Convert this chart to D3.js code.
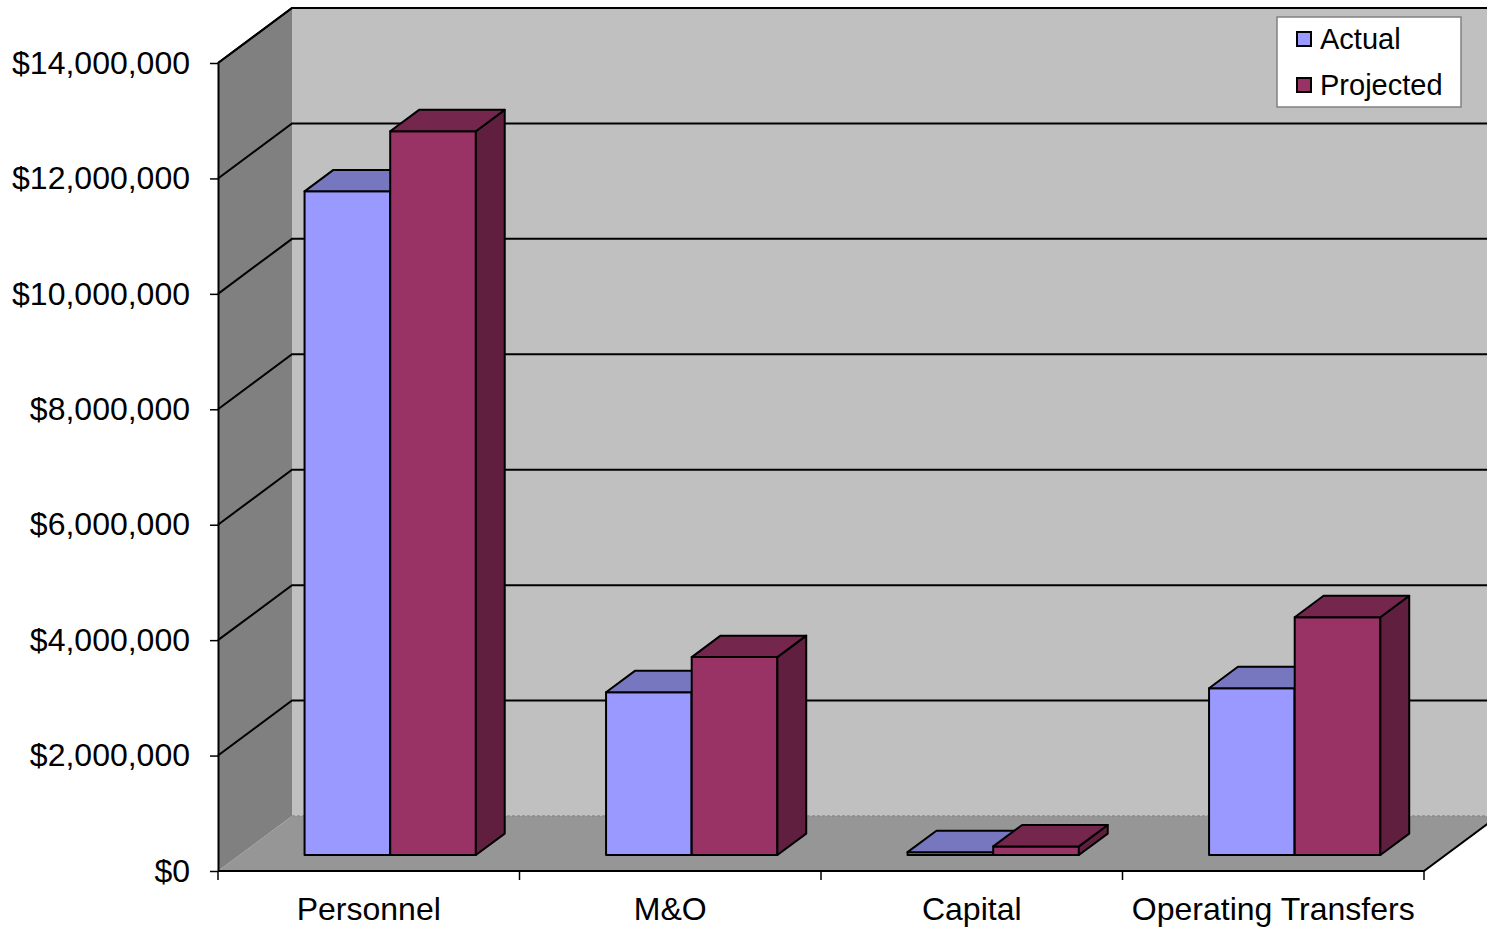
<!DOCTYPE html>
<html>
<head>
<meta charset="utf-8">
<script src="https://cdn.jsdelivr.net/npm/d3@7"></script>
<style>
  html, body { margin: 0; padding: 0; background: #ffffff; }
  svg { display: block; font-family: "Liberation Sans", Arial, sans-serif; }
</style>
</head>
<body>
<svg id="chart" width="1487" height="930"></svg>
<script>
// Budget categories and series values (dollars)
const categories = ["Personnel", "M&O", "Capital", "Operating Transfers"];
const seriesNames = ["Actual", "Projected"];
const actualValues = [11500000, 2820000, 50000, 2890000];
const projectedValues = [12540000, 3430000, 150000, 4120000];
const yTicks = [0, 2000000, 4000000, 6000000, 8000000, 10000000, 12000000, 14000000];

const svg = d3.select("#chart");

// Front plane of the 3D box and depth offset to the back wall
const plot = { left: 218, right: 1424, top: 63, bottom: 871 };
const depth = { dx: 74, dy: -55 };

const y = d3.scaleLinear().domain([0, 14000000]).range([plot.bottom, plot.top]);
const x = d3.scaleBand().domain(categories).range([plot.left, plot.right]);
const series = d3.scaleBand().domain(seriesNames)
  .range([0, x.bandwidth()]).paddingInner(0).paddingOuter(0.76);

// Project a point at front-plane position (px, py) pushed back by z in [0,1]
const P = (px, py, z) => [px + z * depth.dx, py + z * depth.dy];
const poly = pts => "M" + pts.map(p => p.join(",")).join("L") + "Z";

const colors = {
  Actual:    { front: "#9999ff", top: "#7777c0", side: "#5c5c99" },
  Projected: { front: "#993366", top: "#74264d", side: "#611f40" }
};

// Walls
const xL = plot.left, xR = plot.right, yT = y(14000000), yB = y(0);
// floor
svg.append("path")
  .attr("d", poly([P(xL, yB, 0), P(xR, yB, 0), P(xR, yB, 1), P(xL, yB, 1)]))
  .attr("fill", "#969696");
// back wall
svg.append("path")
  .attr("d", poly([P(xL, yT, 1), P(xR, yT, 1), P(xR, yB, 1), P(xL, yB, 1)]))
  .attr("fill", "#c0c0c0");
// side wall
svg.append("path")
  .attr("d", poly([P(xL, yT, 0), P(xL, yT, 1), P(xL, yB, 1), P(xL, yB, 0)]))
  .attr("fill", "#808080");
// join between back wall and floor
svg.append("line")
  .attr("x1", P(xL, yB, 1)[0]).attr("y1", P(xL, yB, 1)[1])
  .attr("x2", P(xR, yB, 1)[0]).attr("y2", P(xR, yB, 1)[1])
  .attr("stroke", "#8a8a8a").attr("stroke-width", 1.5).attr("stroke-dasharray", "3,2");

// Gridlines on side and back walls
const grid = svg.append("g").attr("stroke", "#000").attr("stroke-width", 2).attr("fill", "none");
yTicks.filter(v => v > 0).forEach(v => {
  const a = P(xL, y(v), 0), b = P(xL, y(v), 1), c = P(xR, y(v), 1);
  grid.append("path").attr("d", `M${a}L${b}L${c}`);
});

// Floor front and right edges
svg.append("path")
  .attr("d", `M${P(xL, yB, 0)}L${P(xR, yB, 0)}L${P(xR, yB, 1)}`)
  .attr("fill", "none").attr("stroke", "#000").attr("stroke-width", 2);

// Bars
const zFront = 0.29, zBack = 0.68;
const barsG = svg.append("g").attr("stroke", "#000").attr("stroke-width", 2).attr("stroke-linejoin", "round");
categories.forEach((cat, i) => {
  [["Actual", actualValues[i]], ["Projected", projectedValues[i]]].forEach(([name, val]) => {
    const x0 = x(cat) + series(name), x1 = x0 + series.bandwidth();
    const yt = y(val), yb = y(0);
    const c = colors[name];
    const g = barsG.append("g");
    // front face
    g.append("path").attr("fill", c.front)
      .attr("d", poly([P(x0, yt, zFront), P(x1, yt, zFront), P(x1, yb, zFront), P(x0, yb, zFront)]));
    // right side face
    g.append("path").attr("fill", c.side)
      .attr("d", poly([P(x1, yt, zFront), P(x1, yt, zBack), P(x1, yb, zBack), P(x1, yb, zFront)]));
    // top face
    g.append("path").attr("fill", c.top)
      .attr("d", poly([P(x0, yt, zFront), P(x0, yt, zBack), P(x1, yt, zBack), P(x1, yt, zFront)]));
  });
});

// Value axis on the front left edge
const yAxis = d3.axisLeft(y).tickValues(yTicks).tickSize(8).tickSizeOuter(0).tickPadding(20)
  .tickFormat(d => "$" + d3.format(",")(d));
const yAx = svg.append("g").attr("transform", `translate(${plot.left},0)`).call(yAxis);
yAx.select(".domain").attr("stroke", "#000").attr("stroke-width", 2);
yAx.selectAll(".tick line").attr("stroke", "#000").attr("stroke-width", 1.5);
yAx.selectAll("text").attr("font-size", 32).attr("fill", "#000")
  .attr("font-family", "'Liberation Sans', Arial, sans-serif");

// Side wall top edge
svg.append("path")
  .attr("d", `M${P(xL, yT, 0)}L${P(xL, yT, 1)}L${P(xR, yT, 1)}`)
  .attr("fill", "none").attr("stroke", "#000").attr("stroke-width", 2);

// Category axis: labels centred under each band, ticks on band edges
const xAxis = d3.axisBottom(x).tickSize(0).tickPadding(26);
const xAx = svg.append("g").attr("transform", `translate(0,${plot.bottom})`).call(xAxis);
xAx.select(".domain").remove();
xAx.selectAll("text").attr("font-size", 32).attr("fill", "#000")
  .attr("font-family", "'Liberation Sans', Arial, sans-serif");
const edges = categories.map(c => x(c)).concat([x(categories[categories.length - 1]) + x.bandwidth()]);
svg.append("g").selectAll("line").data(edges).join("line")
  .attr("x1", d => d).attr("x2", d => d)
  .attr("y1", plot.bottom).attr("y2", plot.bottom + 9)
  .attr("stroke", "#000").attr("stroke-width", 1.5);

// Legend
const legend = svg.append("g").attr("transform", "translate(1277,17)");
legend.append("rect").attr("width", 184).attr("height", 90)
  .attr("fill", "#fff").attr("stroke", "#808080").attr("stroke-width", 1.5);
seriesNames.forEach((name, i) => {
  const row = legend.append("g").attr("transform", `translate(0,${22 + i * 46})`);
  row.append("rect").attr("x", 20).attr("y", -7).attr("width", 14).attr("height", 14)
    .attr("fill", colors[name].front).attr("stroke", "#000").attr("stroke-width", 2);
  row.append("text").attr("x", 43).attr("y", 0).attr("dy", "0.35em")
    .attr("font-size", 29).attr("fill", "#000").text(name);
});
</script>
</body>
</html>
